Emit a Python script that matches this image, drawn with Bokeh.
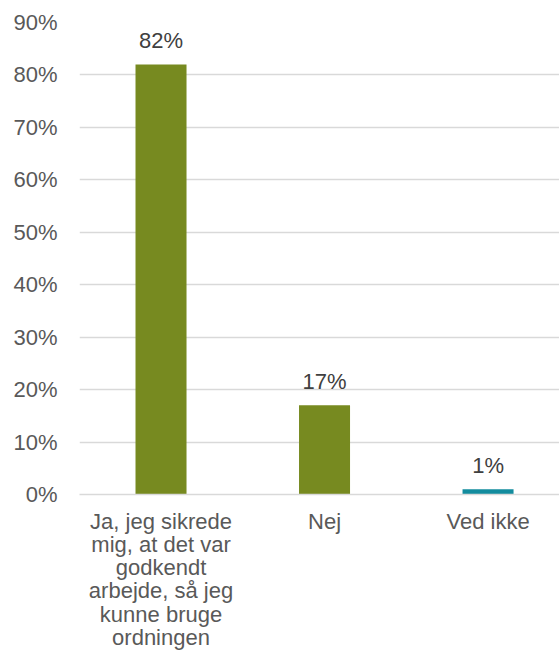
from bokeh.plotting import figure
from bokeh.models import Range1d, FixedTicker, ColumnDataSource
from bokeh.core.properties import value
from bokeh.embed import file_html
from bokeh.resources import INLINE

categories = ["Ja, jeg sikrede\nmig, at det var\ngodkendt\narbejde, så jeg\nkunne bruge\nordningen",
              "Nej", "Ved ikke"]
values = [82, 17, 1]
colors = ["#778A20", "#778A20", "#138C9E"]
y_ticks = [0, 10, 20, 30, 40, 50, 60, 70, 80, 90]

FONT = "Liberation Sans"
xs = list(range(len(categories)))
src = ColumnDataSource(dict(x=xs, top=values, color=colors,
                            label=[f"{v}%" for v in values]))

p = figure(width=559, height=652, output_backend="svg", toolbar_location=None,
           x_range=Range1d(-0.4985, 2.437), y_range=Range1d(0, 90),
           min_border_left=79, min_border_right=0, min_border_top=22,
           min_border_bottom=158)
p.outline_line_color = None
p.background_fill_color = "white"
p.border_fill_color = "white"

p.vbar(x="x", top="top", width=0.312, bottom=0, color="color", source=src,
       line_color=None)
p.text(x="x", y="top", text="label", source=src, text_align="center",
       text_baseline="alphabetic", y_offset=-24, text_font=value(FONT),
       text_font_size="22px", text_color="#404040")

p.xgrid.grid_line_color = None
p.ygrid.grid_line_color = "#D9D9D9"
p.ygrid.grid_line_width = 1.5
p.ygrid.ticker = FixedTicker(ticks=y_ticks)

p.yaxis.ticker = FixedTicker(ticks=y_ticks)
p.yaxis.major_label_overrides = {t: f"{t}%" for t in y_ticks}
p.yaxis.axis_line_color = None
p.yaxis.major_tick_line_color = None
p.yaxis.minor_tick_line_color = None
p.yaxis.major_label_standoff = 16
p.yaxis.major_label_text_font = FONT
p.yaxis.major_label_text_font_size = "22px"
p.yaxis.major_label_text_color = "#595959"

p.xaxis.ticker = FixedTicker(ticks=xs)
p.xaxis.major_label_overrides = {i: c for i, c in enumerate(categories)}
p.xaxis.axis_line_color = "#D9D9D9"
p.xaxis.axis_line_width = 1.5
p.xaxis.major_tick_line_color = None
p.xaxis.minor_tick_line_color = None
p.xaxis.major_label_standoff = 8
p.xaxis.major_label_text_font = FONT
p.xaxis.major_label_text_font_size = "22px"
p.xaxis.major_label_text_color = "#595959"
p.xaxis.major_label_text_line_height = 0.93

open("out.html", "w").write(file_html(p, INLINE))
